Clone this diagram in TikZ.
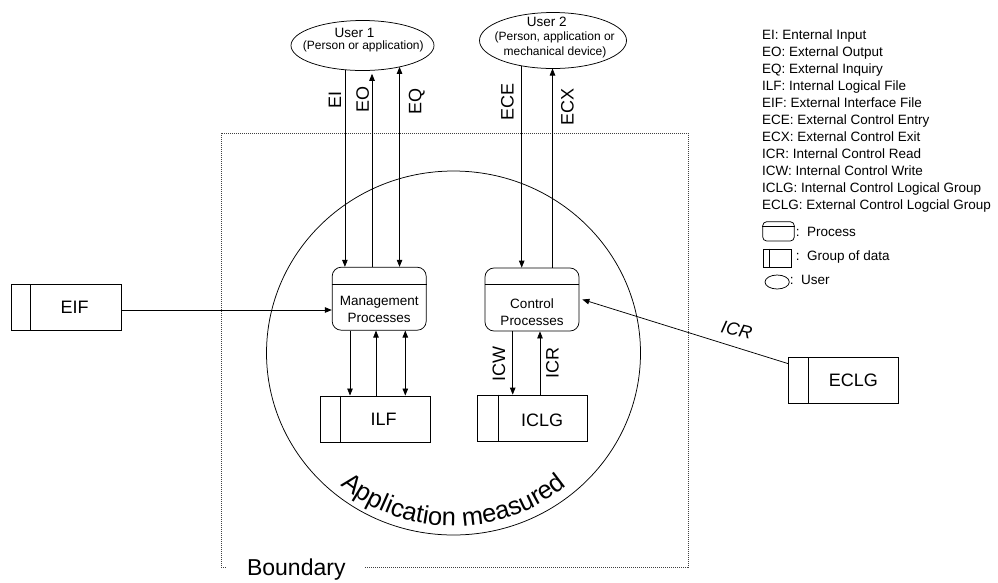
\documentclass[tikz,border=0pt]{standalone}
\usepackage{fontspec}
\setmainfont{Liberation Sans}
\usetikzlibrary{arrows.meta,shapes.geometric,decorations.text,calc}
\begin{document}
\begin{tikzpicture}[x=1pt,y=1pt,
  line width=0.75pt,
  arr/.style={draw,-{Triangle[length=7pt,width=5.5pt]}},
  arrtwo/.style={draw,{Triangle[length=7pt,width=5.5pt]}-{Triangle[length=7pt,width=5.5pt]}},
  proc/.style={draw,rounded corners=9pt,minimum width=94pt,minimum height=63pt,inner sep=0pt},
  datab/.style={draw,minimum width=110pt,minimum height=46pt,inner sep=0pt},
  usr/.style={draw,ellipse,inner sep=0pt,outer sep=0pt},
  ptext/.style={inner sep=0pt,align=center,font=\fontsize{13.5}{17}\selectfont},
  dtext/.style={inner sep=0pt,font=\fontsize{18}{20}\selectfont},
  lab/.style={inner sep=0pt,font=\fontsize{18}{20}\selectfont},
  leg/.style={inner sep=0pt,font=\fontsize{13.5}{17}\selectfont},
  utitle/.style={inner sep=0pt,font=\fontsize{13.5}{15}\selectfont},
  usub/.style={inner sep=0pt,font=\fontsize{12}{15}\selectfont},
  bound/.style={draw=black!75,line width=0.8pt,dash pattern=on 1pt off 1pt}
]
\useasboundingbox (0,0) rectangle (998,-582);

% application circle
\node[draw,ellipse,minimum width=374pt,minimum height=364pt,inner sep=0pt] (app) at (453.5,-353) {};

% boundary
\draw[bound] (365,-567) -- (688,-567) -- (688,-133) -- (221,-133) -- (221,-567) -- (226,-567);
\node[anchor=base west,inner sep=0pt,font=\fontsize{23}{25}\selectfont] (bnd) at (246.7,-575.7) {Boundary};

% users
\node[usr,minimum width=143pt,minimum height=50pt] (user1) at (362.5,-45.5) {};
\node[utitle] (u1a) at (354.5,-33) {User 1};
\node[usub] (u1b) at (363.3,-46.5) {(Person or application)};
\node[usr,minimum width=147pt,minimum height=56pt] (user2) at (553,-40.5) {};
\node[utitle] (u2a) at (546.7,-22) {User 2};
\node[usub] (u2b) at (554.7,-37) {(Person, application or};
\node[usub] (u2c) at (555,-52) {mechanical device)};

% processes
\node[proc] (mgmt) at (379.2,-298.7) {};
\draw ([yshift=-17.5pt]mgmt.north west) -- ([yshift=-17.5pt]mgmt.north east);
\node[ptext] (mgmtT) at (379.2,-309.5) {Management\\Processes};
\node[proc] (ctrl) at (532,-299.5) {};
\draw ([yshift=-16.7pt]ctrl.north west) -- ([yshift=-16.7pt]ctrl.north east);
\node[ptext] (ctrlT) at (532,-312) {Control\\Processes};

% data groups
\node[datab] (ilf) at (375,-418.9) {};
\draw ([xshift=20.7pt]ilf.north west) -- ([xshift=20.7pt]ilf.south west);
\node[dtext] (ilfT) at ($(ilf.center)+(8.5,0)$) {ILF};
\node[datab] (iclg) at (532.7,-418) {};
\draw ([xshift=20.6pt]iclg.north west) -- ([xshift=20.6pt]iclg.south west);
\node[dtext] (iclgT) at ($(iclg.center)+(9.5,-2)$) {ICLG};
\node[datab] (eif) at (66,-307.7) {};
\draw ([xshift=20pt]eif.north west) -- ([xshift=20pt]eif.south west);
\node[dtext] (eifT) at ($(eif.center)+(8.5,0)$) {EIF};
\node[datab] (eclg) at (843.5,-380.4) {};
\draw ([xshift=20.7pt]eclg.north west) -- ([xshift=20.7pt]eclg.south west);
\node[dtext] (eclgT) at ($(eclg.center)+(9.8,0)$) {ECLG};

% user 1 flows
\draw[arr] (user1.234.2) -- (user1.234.2 |- mgmt.north);
\draw[arr,shorten >=3.5pt] (user1.291 |- mgmt.north) -- (user1.291);
\draw[arrtwo] (user1.330.7) -- (user1.330.7 |- mgmt.north);
\node[lab,rotate=90] (lEI) at (335,-100) {EI};
\node[lab,rotate=90] (lEO) at (362.7,-99.3) {EO};
\node[lab,rotate=90] (lEQ) at (416.7,-101.7) {EQ};

% user 2 flows
\draw[arr] (user2.219) -- (user2.219 |- ctrl.north);
\draw[arr] ([xshift=-0.5pt]user2.south |- ctrl.north) -- ([xshift=-0.5pt]user2.south);
\node[lab,rotate=90] (lECE) at (507.3,-101.7) {ECE};
\node[lab,rotate=90] (lECX) at (567.3,-106.7) {ECX};

% EIF
\coordinate (eifout) at ([yshift=-2.3pt]eif.east);
\draw[arr] (eifout) -- (eifout -| mgmt.west);

% ILF flows
\draw[arr] ([xshift=-29.2pt]mgmt.south) -- ([xshift=-29.2pt]mgmt.south |- ilf.north);
\draw[arr] ([xshift=-3.2pt]mgmt.south |- ilf.north) -- ([xshift=-3.2pt]mgmt.south);
\draw[arrtwo] ([xshift=26.1pt]mgmt.south) -- ([xshift=26.1pt]mgmt.south |- ilf.north);

% ICLG flows
\draw[arr] ([xshift=-19.3pt]ctrl.south) -- ([xshift=-19.3pt]ctrl.south |- iclg.north);
\draw[arr] ([xshift=8pt]ctrl.south |- iclg.north) -- ([xshift=8pt]ctrl.south);
\node[lab,rotate=90] (lICW) at (499,-364) {ICW};
\node[lab,rotate=90] (lICR) at (552.4,-362.5) {ICR};

% ECLG
\coordinate (eclgin) at ([yshift=-6.6pt]eclg.north west);
\draw[arr] (eclgin) -- ([xshift=3pt]ctrl.east);
\node[lab,rotate=-13,font=\fontsize{18}{20}\selectfont\itshape] (lICR2) at (736.7,-330) {ICR};

% curved label
\path[decorate,decoration={text along path,text align=center,
  text={|\fontsize{25.5}{26}\selectfont|Application measured}}]
  ($(app.center)+(195:176 and 173)$) arc[start angle=195,end angle=345,x radius=176,y radius=173];

% legend
\foreach \t [count=\i from 0] in {EI: Enternal Input,EO: External Output,EQ: External Inquiry,ILF: Internal Logical File,EIF: External Interface File,ECE: External Control Entry,ECX: External Control Exit,ICR: Internal Control Read,ICW: Internal Control Write,ICLG: Internal Control Logical Group,ECLG: External Control Logcial Group}
  \node[leg,anchor=base west] (lg\i) at (761.7,{-(35+17*\i)-4.8}) {\t};

\node[draw,rounded corners=4pt,minimum width=31.6pt,minimum height=19.3pt,inner sep=0pt] (lgP) at (778.5,-231.35) {};
\draw ([yshift=-5pt]lgP.north west) -- ([yshift=-5pt]lgP.north east);
\node[leg,anchor=base west] (lgPt) at (795.5,-236.5) {:\hspace{7.5pt}Process};
\node[draw,minimum width=28.7pt,minimum height=18.3pt,inner sep=0pt] (lgD) at (777.35,-258.15) {};
\draw ([xshift=6.3pt]lgD.north west) -- ([xshift=6.3pt]lgD.south west);
\node[leg,anchor=base west] (lgDt) at (795.5,-260.8) {:\hspace{7.5pt}Group of data};
\node[usr,minimum width=24.3pt,minimum height=14pt] (lgU) at (777.15,-282) {};
\node[leg,anchor=base west] (lgUt) at (789.5,-284.8) {:\hspace{7.5pt}User};
\end{tikzpicture}
\end{document}
